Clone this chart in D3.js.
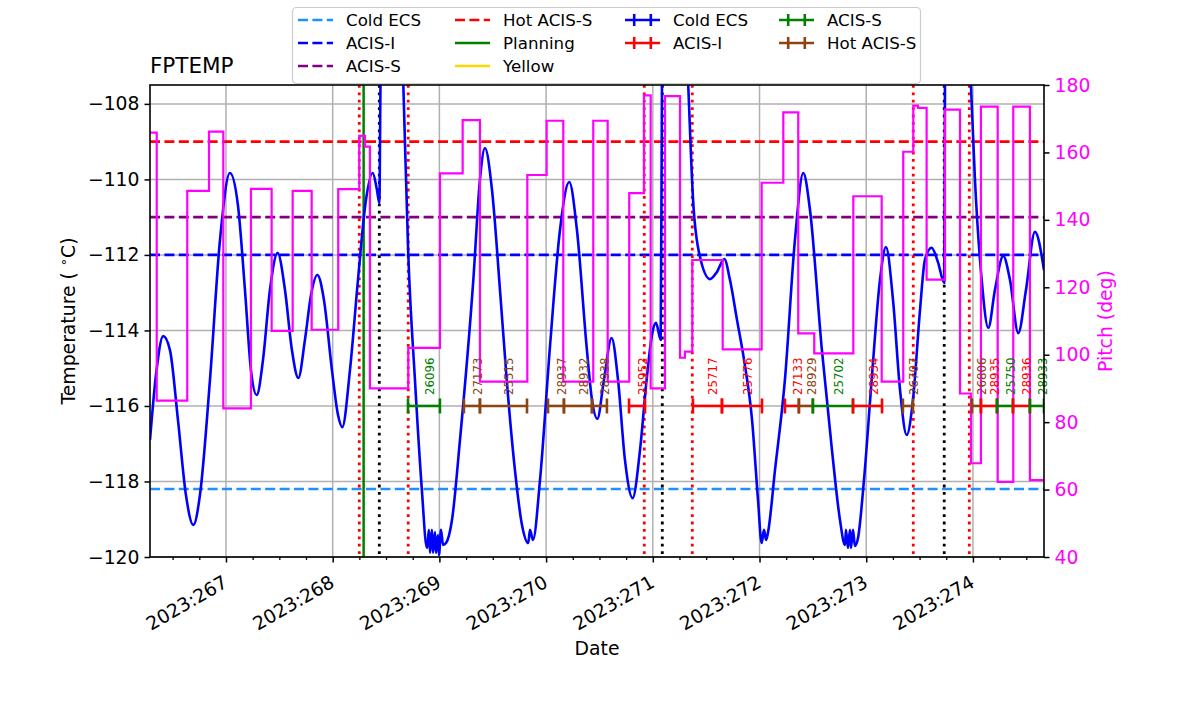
<!DOCTYPE html>
<html><head><meta charset="utf-8">
<script src="https://cdn.jsdelivr.net/npm/d3@7"></script>
<style>body{margin:0;background:#fff} text{font-family:"DejaVu Sans",sans-serif}</style>
</head><body><svg id="c" width="1200" height="714"></svg>
<script>
// ---------- DATA ----------
const dayTicks = [267, 268, 269, 270, 271, 272, 273, 274];
const dayTickLabels = ["2023:267","2023:268","2023:269","2023:270","2023:271","2023:272","2023:273","2023:274"];
const tempTicks = [-120, -118, -116, -114, -112, -110, -108];
const pitchTicks = [40, 60, 80, 100, 120, 140, 160, 180];

// FPTEMP temperature [day of year, degC]
const tempPoints = [
[266.288,-116.90],[266.344,-115.18],[266.412,-114.15],[266.475,-114.52],[266.550,-116.37],[266.625,-118.36],
[266.694,-119.15],[266.756,-118.36],[266.850,-115.31],[266.944,-111.60],[267.037,-109.83],[267.112,-110.68],
[267.178,-112.93],[267.234,-115.05],[267.288,-115.71],[267.347,-114.78],[267.412,-112.93],[267.484,-111.95],
[267.553,-112.93],[267.618,-114.52],[267.678,-115.26],[267.740,-114.25],[267.797,-113.06],[267.856,-112.53],
[267.918,-113.19],[267.993,-115.05],[268.050,-116.24],[268.090,-116.56],[268.162,-115.05],[268.237,-112.66],
[268.312,-110.54],[268.375,-109.83],[268.415,-110.28],[268.437,-110.62],[268.448,-107.5],[268.471,-104.0],
[268.546,-101.5],[268.621,-104.0],[268.662,-107.5],[268.708,-111.95],[268.771,-115.31],[268.834,-118.15],
[268.884,-119.76],[268.902,-119.28],[268.912,-119.89],[268.930,-119.28],[268.940,-119.89],[268.959,-119.34],
[268.968,-119.89],[268.987,-119.42],[268.996,-119.95],[269.015,-119.28],[269.034,-119.68],[269.062,-119.63],
[269.118,-119.02],[269.193,-116.90],[269.318,-112.66],[269.380,-110.01],[269.427,-109.17],[269.493,-110.28],
[269.568,-112.93],[269.631,-115.31],[269.708,-117.70],[269.774,-119.15],[269.833,-119.63],[269.849,-119.28],
[269.877,-119.55],[269.943,-117.96],[270.036,-114.44],[270.130,-111.34],[270.217,-110.07],[270.289,-111.34],
[270.380,-114.44],[270.430,-115.84],[270.480,-116.34],[270.542,-115.31],[270.614,-114.20],[270.674,-115.31],
[270.739,-117.43],[270.811,-118.44],[270.880,-117.17],[270.942,-115.31],[270.992,-114.12],[271.030,-113.80],
[271.074,-114.25],[271.086,-107.5],[271.114,-104.0],[271.198,-101.5],[271.283,-104.0],[271.332,-107.5],
[271.379,-110.62],[271.442,-112.05],[271.536,-112.64],[271.601,-112.45],[271.670,-112.11],[271.723,-112.66],
[271.789,-113.72],[271.855,-114.78],[271.930,-116.37],[271.986,-118.49],[272.020,-119.63],[272.042,-119.28],
[272.061,-119.55],[272.079,-119.36],[272.145,-117.70],[272.238,-115.31],[272.332,-111.60],[272.410,-109.83],
[272.473,-110.81],[272.582,-114.44],[272.679,-117.17],[272.754,-119.02],[272.801,-119.68],[272.810,-119.28],
[272.829,-119.76],[272.848,-119.28],[272.857,-119.76],[272.876,-119.28],[272.894,-119.71],[272.923,-119.50],
[272.979,-117.96],[273.051,-115.31],[273.129,-112.66],[273.185,-111.79],[273.251,-113.19],[273.317,-115.58],
[273.379,-116.77],[273.438,-115.84],[273.504,-113.46],[273.550,-112.13],[273.613,-111.81],[273.672,-112.19],
[273.731,-112.74],[273.738,-107.5],[273.766,-104.0],[273.850,-101.5],[273.935,-104.0],[273.981,-107.5],
[274.019,-110.01],[274.082,-112.66],[274.144,-113.93],[274.206,-112.93],[274.284,-112.03],[274.347,-112.66],
[274.425,-114.07],[274.497,-112.93],[274.581,-111.39],[274.666,-112.40]
];

// Pitch step function [day of year, deg] (value holds until next point)
const pitchSteps = [
[266.288,165.9],[266.351,86.4],[266.637,148.6],[266.841,166.2],[266.975,84.1],[267.234,149.2],[267.428,107.1],
[267.625,148.6],[267.803,107.4],[268.052,149.1],[268.249,164.9],[268.303,161.7],[268.349,90.0],[268.708,102.0],
[269.005,153.8],[269.218,169.6],[269.380,92.0],[269.824,153.3],[270.005,169.4],[270.161,92.0],[270.442,169.4],
[270.577,92.0],[270.779,147.9],[270.917,176.9],[270.980,90.0],[271.114,176.7],[271.255,99.1],[271.301,100.9],
[271.370,128.1],[271.655,101.6],[272.020,151.0],[272.223,171.9],[272.363,106.3],[272.513,100.4],[272.879,147.0],
[273.145,92.0],[273.347,160.2],[273.441,173.9],[273.485,173.2],[273.566,122.3],[273.738,172.7],[273.879,88.5],
[273.982,67.8],[274.075,173.6],[274.232,62.3],[274.378,173.6],[274.534,62.8],[274.666,62.8]
];

// Limit lines
const limitNames = ["Cold ECS", "ACIS-I", "ACIS-S", "Hot ACIS-S"];
const limitValues = [-118.2, -112.0, -111.0, -109.0];

// Vertical markers
const redDotTimes = [268.249, 268.708, 270.920, 271.370, 273.441, 273.966];
const blackDotTimes = [268.437, 271.089, 273.731];
const planningTimes = [268.290];

// Observations
const obsIds   = ["26096","27173","25515","28937","28932","28938","25952","25717","25776","27133","28929","25702","28934","26707","26806","28935","25750","28936","28933"];
const obsStart = [268.706,269.230,269.380,270.018,270.167,270.430,270.777,271.376,271.648,272.238,272.369,272.500,272.876,273.344,273.991,274.075,274.225,274.375,274.534];
const obsStop  = [269.005,269.380,269.821,270.167,270.430,270.570,270.927,271.648,272.023,272.369,272.500,272.876,273.148,273.438,274.075,274.225,274.375,274.534,274.666];
const obsMode  = ["ACIS-S","Hot ACIS-S","Hot ACIS-S","Hot ACIS-S","Hot ACIS-S","Hot ACIS-S","ACIS-I","ACIS-I","ACIS-I","ACIS-I","Hot ACIS-S","ACIS-S","ACIS-I","Hot ACIS-S","Hot ACIS-S","ACIS-I","ACIS-S","ACIS-I","ACIS-S"];
const obsLevel = -116;

// ---------- STYLE ----------
const limitColor = {"Cold ECS":"#1E90FF","ACIS-I":"#0000FF","ACIS-S":"#800080","Hot ACIS-S":"#FF0000"};
const modeColor = {"Cold ECS":"#0000FF","ACIS-I":"#FF0000","ACIS-S":"#008000","Hot ACIS-S":"#8B4513"};
const M = {l:150, r:1044, t:85, b:557};
const svg = d3.select("#c");
const x = d3.scaleLinear().domain([266.288, 274.666]).range([M.l, M.r]);
const y = d3.scaleLinear().domain([-120, -107.5]).range([M.b, M.t]);
const y2 = d3.scaleLinear().domain([40, 180]).range([M.b, M.t]);

svg.append("defs").append("clipPath").attr("id","clip")
  .append("rect").attr("x",M.l).attr("y",M.t).attr("width",M.r-M.l).attr("height",M.b-M.t);

// grid
const grid = svg.append("g").attr("stroke","#b0b0b0").attr("stroke-width",1.5);
dayTicks.forEach(d=>grid.append("line").attr("x1",x(d)).attr("x2",x(d)).attr("y1",M.t).attr("y2",M.b));
tempTicks.forEach(t=>grid.append("line").attr("x1",M.l).attr("x2",M.r).attr("y1",y(t)).attr("y2",y(t)));

const plot = svg.append("g").attr("clip-path","url(#clip)");

// limits
limitNames.forEach((n,i)=>{
  plot.append("line").attr("x1",M.l).attr("x2",M.r).attr("y1",y(limitValues[i])).attr("y2",y(limitValues[i]))
    .attr("stroke",limitColor[n]).attr("stroke-width",2.6).attr("stroke-dasharray","10,4.4");
});

// vertical markers
redDotTimes.forEach(t=>plot.append("line").attr("x1",x(t)).attr("x2",x(t)).attr("y1",M.t).attr("y2",M.b)
  .attr("stroke","#FF0000").attr("stroke-width",2.8).attr("stroke-dasharray","2.8,4.6"));
blackDotTimes.forEach(t=>plot.append("line").attr("x1",x(t)).attr("x2",x(t)).attr("y1",M.t).attr("y2",M.b)
  .attr("stroke","#000").attr("stroke-width",2.8).attr("stroke-dasharray","2.8,4.6"));
planningTimes.forEach(t=>plot.append("line").attr("x1",x(t)).attr("x2",x(t)).attr("y1",M.t).attr("y2",M.b)
  .attr("stroke","#008000").attr("stroke-width",2.5));

// temperature
plot.append("path").datum(tempPoints)
  .attr("d", d3.line().x(d=>x(d[0])).y(d=>y(d[1])).curve(d3.curveMonotoneX))
  .attr("fill","none").attr("stroke","#0000FF").attr("stroke-width",2.6).attr("stroke-linejoin","round");

// observations
const obsG = svg.append("g");
const obsClip = obsG.append("g").attr("clip-path","url(#clip)");
obsIds.forEach((id,i)=>{
  const c = modeColor[obsMode[i]], x0 = x(obsStart[i]), x1 = x(obsStop[i]), yy = y(obsLevel);
  obsClip.append("line").attr("x1",x0).attr("x2",x1).attr("y1",yy).attr("y2",yy).attr("stroke",c).attr("stroke-width",2.6);
  [x0,x1].forEach(xx=>obsClip.append("line").attr("x1",xx).attr("x2",xx).attr("y1",yy-7.5).attr("y2",yy+7.5).attr("stroke",c).attr("stroke-width",2.6));
});
obsIds.forEach((id,i)=>{
  const c = modeColor[obsMode[i]], xm = (x(obsStart[i])+x(obsStop[i]))/2 + 10;
  obsG.append("text").attr("transform",`translate(${xm},${y(obsLevel)-11}) rotate(-90)`)
    .attr("font-size",11.8).attr("fill",c).text(id);
});

// pitch
plot.append("path").datum(pitchSteps)
  .attr("d", d3.line().x(d=>x(d[0])).y(d=>y2(d[1])).curve(d3.curveStepAfter))
  .attr("fill","none").attr("stroke","#FF00FF").attr("stroke-width",2.2);

// axes
const fs = 18.8;
const ax = svg.append("g").attr("transform",`translate(0,${M.b})`)
  .call(d3.axisBottom(x).tickValues(d3.range(266.5, 274.7, 0.25).filter(v=>!dayTicks.includes(v))).tickSize(3).tickFormat(""));
ax.selectAll("line").attr("stroke-width",1.3);
const ax2 = svg.append("g").attr("transform",`translate(0,${M.b})`)
  .call(d3.axisBottom(x).tickValues(dayTicks).tickSize(5.5).tickFormat(""));
ax2.selectAll("line").attr("stroke-width",1.5);
svg.selectAll(".domain").remove();
dayTicks.forEach((d,i)=>{
  svg.append("text").attr("transform",`translate(${x(d)+3},${M.b+29}) rotate(-30)`)
    .attr("text-anchor","end").attr("font-size",fs).text(dayTickLabels[i]);
});

const ay = svg.append("g").attr("transform",`translate(${M.l},0)`)
  .call(d3.axisLeft(y).tickValues(tempTicks).tickSize(5.5).tickPadding(5));
ay.select(".domain").remove();
ay.selectAll("text").attr("font-size",fs).attr("font-family","DejaVu Sans").attr("fill","#000");
ay.selectAll("line").attr("stroke-width",1.5);

const ay2 = svg.append("g").attr("transform",`translate(${M.r},0)`)
  .call(d3.axisRight(y2).tickValues(pitchTicks).tickSize(5.5).tickPadding(5));
ay2.select(".domain").remove();
ay2.selectAll("text").attr("font-size",fs).attr("font-family","DejaVu Sans").attr("fill","#FF00FF");
ay2.selectAll("line").attr("stroke-width",1.5).attr("stroke","#000");

// frame
svg.append("rect").attr("x",M.l).attr("y",M.t).attr("width",M.r-M.l).attr("height",M.b-M.t)
  .attr("fill","none").attr("stroke","#000").attr("stroke-width",1.6);

// labels
svg.append("text").attr("x",(M.l+M.r)/2).attr("y",655).attr("text-anchor","middle").attr("font-size",fs).text("Date");
const tl = svg.append("text").attr("transform",`translate(75,${(M.t+M.b)/2}) rotate(-90)`).attr("text-anchor","middle").attr("font-size",fs);
tl.append("tspan").text("Temperature ( ");
tl.append("tspan").attr("font-size",fs*0.7).attr("dy",-7).text("∘");
tl.append("tspan").attr("dy",7).text("C)");
svg.append("text").attr("transform",`translate(1112,${(M.t+M.b)/2}) rotate(-90)`).attr("text-anchor","middle")
  .attr("font-size",fs).attr("fill","#FF00FF").text("Pitch (deg)");
svg.append("text").attr("x",M.l).attr("y",73).attr("font-size",21.5).text("FPTEMP");

// legend
const lg = svg.append("g");
lg.append("rect").attr("x",292.5).attr("y",7.5).attr("width",628).attr("height",76).attr("rx",4)
  .attr("fill","#fff").attr("fill-opacity",0.8).attr("stroke","#cccccc").attr("stroke-width",1.2);
const colX = [298, 455, 625, 779];
const rowY = [20, 43, 66];
const legendItems = [
  {c:0,r:0,t:"Cold ECS",type:"dash",col:limitColor["Cold ECS"]},
  {c:0,r:1,t:"ACIS-I",type:"dash",col:limitColor["ACIS-I"]},
  {c:0,r:2,t:"ACIS-S",type:"dash",col:limitColor["ACIS-S"]},
  {c:1,r:0,t:"Hot ACIS-S",type:"dash",col:limitColor["Hot ACIS-S"]},
  {c:1,r:1,t:"Planning",type:"solid",col:"#008000"},
  {c:1,r:2,t:"Yellow",type:"solid",col:"#FFD700"},
  {c:2,r:0,t:"Cold ECS",type:"err",col:modeColor["Cold ECS"]},
  {c:2,r:1,t:"ACIS-I",type:"err",col:modeColor["ACIS-I"]},
  {c:3,r:0,t:"ACIS-S",type:"err",col:modeColor["ACIS-S"]},
  {c:3,r:1,t:"Hot ACIS-S",type:"err",col:modeColor["Hot ACIS-S"]}
];
legendItems.forEach(it=>{
  const x0 = colX[it.c], yy = rowY[it.r];
  const ln = lg.append("line").attr("x1",x0).attr("x2",x0+35).attr("y1",yy).attr("y2",yy).attr("stroke",it.col).attr("stroke-width",2.6);
  if (it.type==="dash") ln.attr("stroke-dasharray","10,4.4");
  if (it.type==="err") [x0+9.2, x0+25.8].forEach(xx=>lg.append("line").attr("x1",xx).attr("x2",xx).attr("y1",yy-6).attr("y2",yy+6).attr("stroke",it.col).attr("stroke-width",2.6));
  lg.append("text").attr("x",x0+48).attr("y",yy+6).attr("font-size",16.67).text(it.t);
});
</script></body></html>
